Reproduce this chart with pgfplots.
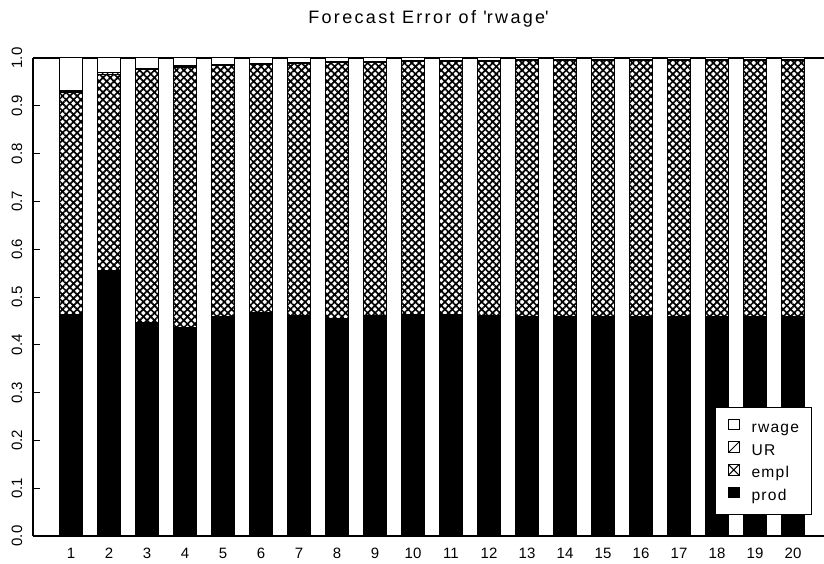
\documentclass[border=0pt]{standalone}
\usepackage{fontspec}
\setmainfont{Liberation Sans}
\newfontfamily\widefont[LetterSpace=13]{Liberation Sans}
\newfontfamily\legfont[LetterSpace=8]{Liberation Sans}
\usepackage{pgfplots}
\usepackage{pgfplotstable}
\pgfplotsset{compat=1.18}
\usetikzlibrary{patterns.meta}
\pgfplotstableread{
x prod empl UR rwage
1  0.464 0.465 0.002 0.069
2  0.556 0.410 0.003 0.031
3  0.447 0.530 0.002 0.021
4  0.436 0.545 0.003 0.016
5  0.458 0.527 0.002 0.013
6  0.467 0.520 0.002 0.011
7  0.461 0.528 0.002 0.009
8  0.455 0.535 0.002 0.008
9  0.461 0.530 0.002 0.007
10 0.464 0.528 0.002 0.006
11 0.463 0.530 0.002 0.005
12 0.461 0.532 0.002 0.005
13 0.460 0.534 0.002 0.004
14 0.460 0.534 0.002 0.004
15 0.460 0.534 0.002 0.004
16 0.460 0.534 0.002 0.004
17 0.460 0.535 0.002 0.003
18 0.460 0.535 0.002 0.003
19 0.460 0.535 0.002 0.003
20 0.460 0.535 0.002 0.003
}\fevd
\begin{document}
\begin{tikzpicture}
\begin{axis}[
  name=ax,
  scale only axis, width=395.5pt, height=239pt,
  xmin=0, xmax=20.816, ymin=0, ymax=1,
  axis x line*=bottom, axis y line*=left,
  axis line style={line width=1pt, -},
  ybar stacked, bar width=0.616,
  xtick={1,2,...,20},
  x tick style={draw=none},
  ytick={0,0.1,0.2,0.3,0.4,0.5,0.6,0.7,0.8,0.9,1.0},
  tick align=inside, major tick length=3.5pt,
  y tick style={line width=0.5pt, black},
  tick label style={font=\fontsize{7.5}{8.5}\selectfont},
  /pgf/number format/assume math mode=true,
  x tick label style={yshift=-2.5pt},
  y tick label style={xshift=-5.5pt, rotate=90, anchor=base,
     /pgf/number format/.cd, fixed, fixed zerofill, precision=1, /tikz/.cd},
  title={Forecast Error of \textquotesingle rwage\textquotesingle},
  title style={font=\widefont\fontsize{9}{11}\selectfont, at={(0.5,1)}, anchor=base, yshift=11pt},
  legend style={at={(0.985,0.044)}, anchor=south east, draw=black, line width=0.5pt,
    fill=white, font=\legfont\fontsize{7.8}{9}\selectfont,
    inner xsep=6.3pt, inner ysep=5.5pt, row sep=2.9pt, column sep=6pt,
    nodes={inner sep=0pt, text height=5.2pt, text depth=1.5pt}},
  legend cell align=left,
]
\addplot[fill=black, draw=black, line width=0.5pt, forget plot]
  table[x=x, y=prod] {\fevd};
\addplot[draw=black, line width=0.6pt, forget plot,
  pattern={Hatch[angle=45, distance=2.6pt, line width=0.85pt]}, pattern color=black]
  table[x=x, y=empl] {\fevd};
\addplot[draw=black, line width=0.5pt, forget plot,
  pattern={Lines[angle=45, distance=1.8pt, line width=0.5pt]}, pattern color=black]
  table[x=x, y=UR] {\fevd};
\addplot[fill=white, draw=black, line width=0.5pt, forget plot]
  table[x=x, y=rwage] {\fevd};
\addlegendimage{legend image code/.code={\draw[fill=white, draw=black, line width=0.5pt] (0pt,-0.5pt) rectangle (5.3pt,4.8pt);}}
\addlegendentry{rwage}
\addlegendimage{legend image code/.code={\draw[fill=white, draw=black, line width=0.5pt] (0pt,-0.5pt) rectangle (5.3pt,4.8pt);
     \draw[black, line width=0.5pt] (0pt,-0.5pt) -- (5.3pt,4.8pt);}}
\addlegendentry{UR}
\addlegendimage{legend image code/.code={\draw[fill=white, draw=black, line width=0.5pt] (0pt,-0.5pt) rectangle (5.3pt,4.8pt);
     \draw[black, line width=0.5pt] (0pt,-0.5pt) -- (5.3pt,4.8pt) (0pt,4.8pt) -- (5.3pt,-0.5pt);}}
\addlegendentry{empl}
\addlegendimage{legend image code/.code={\draw[fill=black, draw=black, line width=0.5pt] (0pt,-0.5pt) rectangle (5.3pt,4.8pt);}}
\addlegendentry{prod}
\draw[line width=1pt] (rel axis cs:0,1) -- (rel axis cs:1,1);
\end{axis}
\pgfresetboundingbox
\path ([xshift=-16.5pt,yshift=-13.5pt]ax.south west) rectangle ([yshift=29pt]ax.north east);
\end{tikzpicture}
\end{document}
